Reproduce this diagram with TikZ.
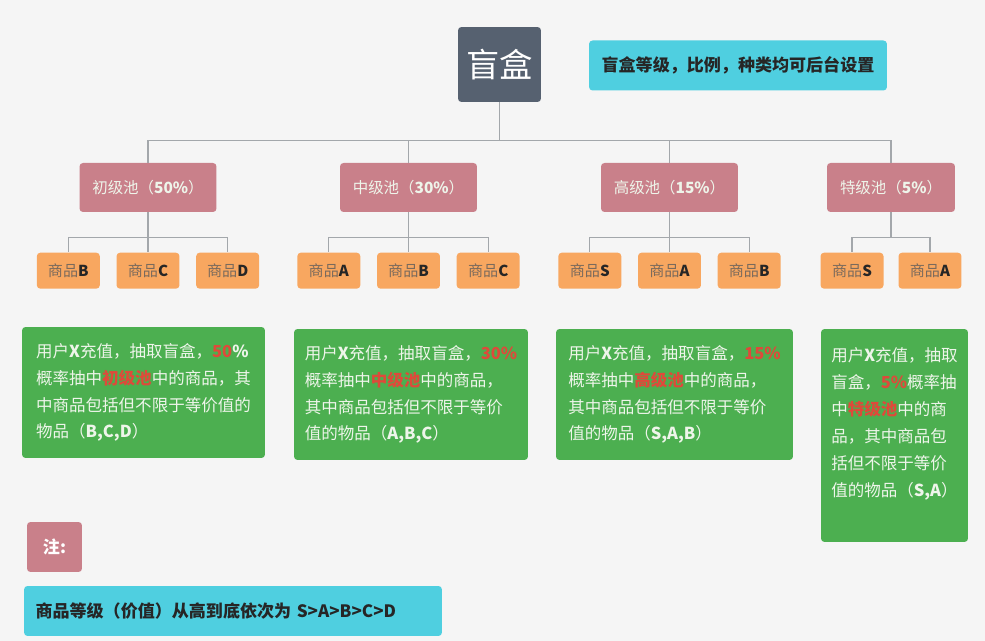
\documentclass[tikz,border=0pt]{standalone}
\usepackage{fontspec}
\setmainfont{Noto Sans CJK SC}
\usepackage{tikz}
\usetikzlibrary{positioning,calc}

\definecolor{bgcol}{HTML}{F5F5F5}
\definecolor{slate}{HTML}{566170}
\definecolor{skycyan}{HTML}{4FCFE0}
\definecolor{poolpink}{HTML}{C9808A}
\definecolor{itemorange}{HTML}{F8A760}
\definecolor{descgreen}{HTML}{4CAF50}
\definecolor{hotred}{HTML}{DE4A3A}
\definecolor{linegray}{HTML}{A3A7AB}
\definecolor{itemgray}{HTML}{7A6A5C}
\definecolor{softwhite}{HTML}{EEF5EA}

\newcommand{\redtxt}[1]{\textcolor{hotred}{\textbf{#1}}}
\newcommand{\goods}[1]{{\color{itemgray}商品}\textbf{#1}}

\tikzset{
	rootbox/.style = {
		fill=slate,
		text=white,
		rectangle,
		minimum width=1.66cm,
		minimum height=1.5cm,
		rounded corners=2pt,
		font=\fontsize{19}{22}\selectfont
	},
	tipbox/.style = {
		fill=skycyan,
		text=black!85,
		rectangle,
		minimum height=1cm,
		rounded corners=2pt,
		font=\fontsize{9.7}{12}\selectfont\bfseries
	},
	pool/.style = {
		fill=poolpink,
		text=softwhite,
		rectangle,
		minimum width=2.74cm,
		minimum height=0.98cm,
		rounded corners=2pt,
		font=\fontsize{8.8}{11}\selectfont
	},
	item/.style = {
		fill=itemorange,
		text=black!85,
		rectangle,
		minimum width=1.26cm,
		minimum height=0.72cm,
		rounded corners=2pt,
		font=\fontsize{8.6}{10}\selectfont
	},
	desc/.style = {
		fill=descgreen,
		text=softwhite,
		rectangle,
		minimum height=2.62cm,
		align=left,
		rounded corners=2pt,
		font=\fontsize{9.4}{15.3}\selectfont
	},
	conn/.style = {
		draw=linegray,
		line width=0.7pt
	}
}

\begin{document}
\begin{tikzpicture}[x=0.02cm, y=-0.02cm]
		
		\fill[bgcol] (0,0) rectangle (985,641);
		
		% --- Raiz ---
		\node [rootbox] (root) at (499.5,64.5) {盲盒};
		\node [tipbox, minimum width=5.96cm] (tip) at (738,65.5) {盲盒等级，比例，种类均可后台设置};
		
		% --- Pools ---
		\node [pool] (pool1) at (148,187.5) {初级池（\textbf{50\%}）};
		\node [pool] (pool2) at (408.5,187.5) {中级池（\textbf{30\%}）};
		\node [pool] (pool3) at (669.5,187.5) {高级池（\textbf{15\%}）};
		\node [pool, minimum width=2.56cm] (pool4) at (891,187.5) {特级池（\textbf{5\%}）};
		
		% --- Productos ---
		\node [item, below=0.8cm of pool1] (g12) {\goods{C}};
		\node [item, left=0.32cm of g12] (g11) {\goods{B}};
		\node [item, right=0.32cm of g12] (g13) {\goods{D}};
		
		\node [item, below=0.8cm of pool2] (g22) {\goods{B}};
		\node [item, left=0.32cm of g22] (g21) {\goods{A}};
		\node [item, right=0.32cm of g22] (g23) {\goods{C}};
		
		\node [item, below=0.8cm of pool3] (g32) {\goods{A}};
		\node [item, left=0.32cm of g32] (g31) {\goods{S}};
		\node [item, right=0.32cm of g32] (g33) {\goods{B}};
		
		\node [item, below=0.8cm of pool4, xshift=-0.78cm] (g41) {\goods{S}};
		\node [item, below=0.8cm of pool4, xshift=0.78cm] (g42) {\goods{A}};
		
		% --- Conexiones ---
		\coordinate (bus) at ($(root.south)+(0,38)$);
		\draw [conn] (root.south) -- (bus);
		\foreach \p in {pool1,pool2,pool3,pool4}
			\draw [conn] (bus) -| (\p.north);
		
		\foreach \p/\list in {pool1/{g11,g12,g13}, pool2/{g21,g22,g23}, pool3/{g31,g32,g33}, pool4/{g41,g42}} {
			\coordinate (\p-bus) at ($(\p.south)+(0,25)$);
			\draw [conn] (\p.south) -- (\p-bus);
			\foreach \g in \list
				\draw [conn] (\p-bus) -| (\g.north);
		}
		
		% --- Descripciones ---
		\node [desc, minimum width=4.86cm] (desc1) at (143.5,392.5) {用户\textbf{X}充值，抽取盲盒，\redtxt{50}\textbf{\%}\\
			概率抽中\redtxt{初级池}中的商品，其\\
			中商品包括但不限于等价值的\\
			物品（\textbf{B,C,D}）};
		\node [desc, minimum width=4.68cm] (desc2) at (411,394.5) {用户\textbf{X}充值，抽取盲盒，\redtxt{30\%}\\
			概率抽中\redtxt{中级池}中的商品，\\
			其中商品包括但不限于等价\\
			值的物品（\textbf{A,B,C}）};
		\node [desc, minimum width=4.74cm] (desc3) at (674.5,394.5) {用户\textbf{X}充值，抽取盲盒，\redtxt{15\%}\\
			概率抽中\redtxt{高级池}中的商品，\\
			其中商品包括但不限于等价\\
			值的物品（\textbf{S,A,B}）};
		% el texto va arriba, dejamos una linea vacia al final
		\node [desc, minimum width=2.94cm, minimum height=4.26cm] (desc4) at (894.5,435.5) {用户\textbf{X}充值，抽取\\
			盲盒，\redtxt{5\%}概率抽\\
			中\redtxt{特级池}中的商\\
			品，其中商品包\\
			括但不限于等价\\
			值的物品（\textbf{S,A}）\\
			\mbox{}};
		
		% Nota al pie
		\node [pool, minimum width=1.1cm, minimum height=1cm, font=\fontsize{9.7}{12}\selectfont\bfseries, text=white] (zhu) at (54.5,547) {注:};
		\node [tipbox, minimum width=8.36cm, text width=7.9cm, align=left] (rank) at (233,611) {商品等级（价值）从高到底依次为 S>A>B>C>D};
		
	\end{tikzpicture}
\end{document}
